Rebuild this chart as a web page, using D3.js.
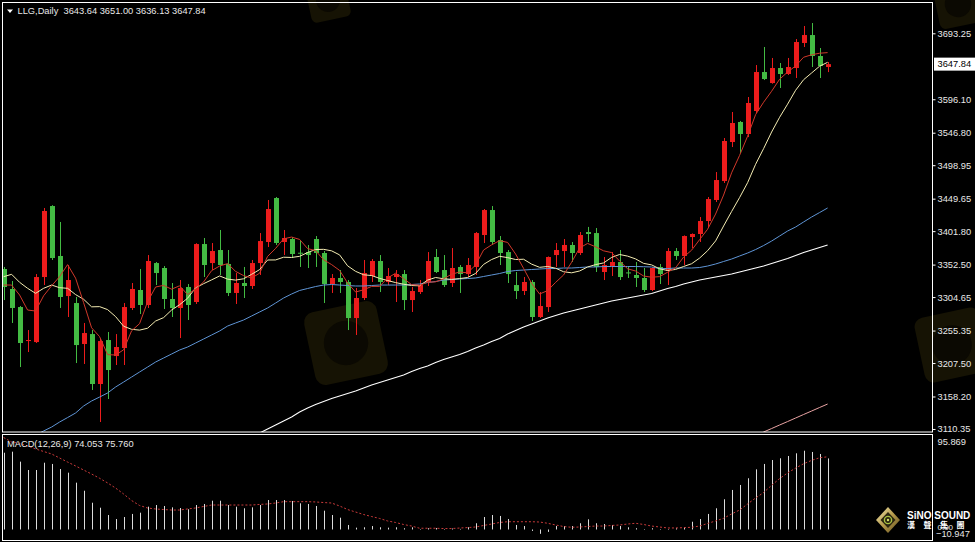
<!DOCTYPE html>
<html><head><meta charset="utf-8">
<script src="https://cdn.jsdelivr.net/npm/d3@7"></script>
<style>
html,body{margin:0;padding:0;background:#000;}
svg{display:block;}
text{font-family:"Liberation Sans",Arial,sans-serif;}
</style></head><body>
<svg id="c" width="975" height="542"></svg>
<script>
// ---------------- DATA ----------------
const symbolTitle = "LLG,Daily";
const lastOHLC = [3643.64, 3651.00, 3636.13, 3647.84];
const macdName = "MACD(12,26,9)";
const macdLast = [74.053, 75.760];

const open = [3346.0,3316.6,3290.0,3239.9,3238.4,3334.2,3438.8,3365.2,3306.2,3295.9,
3235.5,3250.2,3176.6,3241.4,3217.8,3229.6,3288.6,3315.1,3293.0,3354.8,
3347.5,3301.8,3288.6,3319.5,3297.4,3382.8,3354.8,3374.0,3353.4,3310.7,
3325.4,3321.0,3354.8,3385.8,3450.6,3385.8,3390.2,3370.0,3371.0,3390.2,
3369.6,3323.9,3332.8,3326.9,3273.8,3303.3,3335.7,3357.8,3326.9,3334.2,
3338.6,3300.3,3312.1,3326.9,3363.7,3344.5,3325.4,3349.0,3338.6,3349.0,
3396.1,3432.9,3388.7,3371.0,3322.4,3313.6,3326.9,3275.3,3290.0,3366.6,
3372.5,3381.4,3369.6,3400.5,3399.0,3341.6,3350.4,3356.3,3341.0,3337.2,
3332.8,3315.1,3349.0,3343.1,3372.5,3365.2,3393.1,3397.6,3416.7,3447.7,
3475.6,3533.1,3562.6,3544.9,3578.8,3636.2,3620.0,3642.1,3633.3,3642.1,
3679.0,3690.7,3659.8,3643.64];
const high = [3349.0,3328.3,3291.5,3256.1,3338.6,3435.9,3440.0,3415.3,3351.9,3304.8,
3266.5,3256.1,3242.9,3253.2,3250.2,3295.9,3325.4,3346.0,3366.6,3356.3,
3350.4,3325.4,3329.8,3323.9,3384.0,3391.7,3384.3,3403.5,3374.0,3340.1,
3349.0,3359.3,3399.0,3447.7,3452.1,3403.5,3393.1,3388.7,3381.4,3394.6,
3372.5,3338.6,3344.5,3329.8,3318.0,3359.3,3360.7,3366.6,3347.5,3344.5,
3344.5,3319.5,3329.8,3371.0,3375.5,3366.6,3376.9,3351.9,3362.2,3400.5,
3434.4,3438.8,3394.6,3374.0,3341.6,3334.2,3329.8,3312.1,3364.5,3384.3,
3390.2,3385.8,3400.5,3408.0,3406.4,3363.7,3371.0,3374.0,3349.0,3356.3,
3347.5,3348.5,3353.4,3376.9,3376.9,3395.5,3398.5,3422.6,3452.1,3488.9,
3539.0,3577.3,3564.1,3599.4,3646.5,3673.1,3656.9,3649.5,3656.9,3684.8,
3704.0,3708.4,3671.6,3651.00];
const low = [3300.3,3266.5,3201.6,3223.7,3237.0,3322.4,3359.3,3288.6,3275.3,3207.5,
3206.1,3167.8,3120.6,3154.5,3204.6,3204.6,3285.6,3279.7,3288.6,3322.4,
3287.1,3275.3,3244.3,3270.9,3294.5,3334.2,3344.5,3337.2,3306.2,3294.5,
3303.3,3316.6,3337.2,3378.4,3381.4,3366.6,3362.2,3349.0,3347.5,3349.0,
3295.9,3310.7,3310.7,3256.1,3248.8,3300.3,3326.9,3312.1,3322.4,3297.4,
3285.6,3282.7,3309.2,3321.0,3340.1,3319.5,3319.5,3310.7,3334.2,3337.2,
3384.3,3381.4,3351.9,3325.4,3301.8,3307.7,3269.4,3273.8,3282.7,3349.0,
3349.0,3356.3,3366.6,3385.8,3341.6,3329.8,3335.7,3329.8,3332.8,3319.5,
3312.1,3313.6,3323.9,3322.4,3359.3,3351.9,3376.9,3385.8,3406.4,3444.7,
3472.7,3525.7,3516.9,3540.4,3575.8,3624.4,3619.0,3612.7,3631.8,3627.4,
3673.1,3643.6,3627.4,3636.13];
const close = [3319.5,3288.6,3237.0,3241.4,3334.2,3431.5,3362.2,3304.8,3329.8,3234.0,
3251.7,3176.6,3239.9,3197.2,3231.1,3290.0,3316.6,3293.0,3357.8,3340.1,
3301.8,3288.6,3318.0,3293.0,3382.8,3351.9,3372.5,3351.9,3310.7,3325.4,
3321.0,3354.8,3387.2,3434.4,3384.3,3391.7,3368.1,3369.6,3366.6,3369.6,
3323.9,3332.8,3326.9,3273.8,3303.3,3340.1,3357.8,3326.9,3335.7,3338.6,
3300.3,3313.6,3322.4,3357.8,3341.6,3322.4,3347.5,3338.6,3351.9,3399.0,
3432.9,3385.8,3369.6,3338.6,3313.6,3326.9,3275.3,3291.5,3363.7,3374.0,
3381.4,3369.6,3396.1,3397.6,3349.0,3351.9,3356.3,3334.2,3340.1,3332.8,
3315.1,3347.5,3338.6,3372.5,3365.2,3394.6,3397.6,3416.7,3449.1,3477.1,
3534.6,3561.1,3544.9,3590.6,3636.2,3625.9,3642.1,3633.3,3643.6,3680.4,
3690.7,3659.8,3645.1,3647.84];

const ma5 = [3322.4,3322.4,3307.7,3285.6,3284.1,3306.5,3321.3,3334.8,3352.5,3332.5,
3296.5,3259.4,3246.4,3219.9,3219.3,3227.0,3255.0,3265.6,3297.7,3319.5,
3321.9,3316.3,3321.3,3308.3,3316.8,3326.9,3343.6,3350.4,3354.0,3342.5,
3336.3,3332.8,3339.8,3364.6,3376.3,3390.5,3393.1,3389.6,3376.1,3373.1,
3359.6,3352.5,3344.0,3325.4,3312.1,3315.4,3320.4,3320.4,3332.8,3339.8,
3331.9,3323.0,3322.1,3326.5,3327.1,3331.6,3338.3,3341.6,3340.4,3351.9,
3374.0,3381.6,3387.8,3385.2,3368.1,3346.9,3324.8,3309.2,3314.2,3326.3,
3337.2,3356.0,3377.0,3383.7,3378.7,3372.8,3370.2,3357.8,3346.3,3343.1,
3335.7,3333.9,3334.8,3341.3,3347.8,3363.7,3373.7,3389.3,3404.6,3427.0,
3455.0,3487.7,3513.4,3541.7,3573.5,3591.7,3607.9,3625.6,3636.2,3645.1,
3658.0,3661.6,3663.9,3664.8];
const ma10 = [3334.7,3338.2,3326.4,3317.6,3310.2,3317.6,3322.4,3318.5,3317.6,3308.3,
3301.5,3290.3,3290.6,3286.2,3275.9,3261.7,3257.2,3256.0,3258.8,3269.4,
3274.4,3285.6,3293.4,3303.0,3318.2,3324.4,3330.0,3335.8,3331.1,3329.7,
3331.6,3338.2,3345.1,3359.3,3359.4,3363.4,3363.0,3364.7,3370.3,3374.7,
3375.0,3372.8,3366.8,3350.7,3342.6,3337.5,3336.4,3332.2,3329.1,3326.0,
3323.6,3321.7,3321.3,3329.7,3333.5,3331.7,3330.7,3331.9,3333.5,3339.5,
3352.8,3360.0,3364.7,3362.8,3360.0,3360.4,3353.2,3348.5,3349.7,3347.2,
3342.0,3340.4,3343.1,3349.0,3352.5,3355.0,3363.1,3367.4,3365.0,3360.9,
3354.3,3352.1,3346.3,3343.8,3345.4,3349.7,3353.8,3362.1,3373.0,3387.4,
3409.4,3430.7,3451.3,3473.2,3500.3,3523.4,3547.8,3569.5,3588.9,3609.3,
3624.9,3634.8,3644.8,3650.5];
const ma60 = [null,null,null,null,3101.5,3107.4,3113.2,3120.6,3127.2,3133.9,
3144.2,3151.6,3157.4,3163.4,3172.2,3179.5,3186.9,3194.3,3201.6,3209.0,
3214.9,3220.8,3226.7,3231.1,3237.0,3242.9,3248.8,3254.7,3262.0,3266.5,
3270.9,3276.8,3282.7,3288.6,3295.9,3303.3,3309.2,3314.4,3317.3,3320.2,
3322.4,3323.2,3322.4,3321.7,3321.0,3321.0,3321.7,3322.4,3322.4,3322.4,
3322.4,3323.2,3323.9,3326.1,3327.6,3329.8,3330.5,3331.3,3332.0,3332.8,
3335.0,3337.2,3339.4,3342.3,3343.8,3344.5,3345.3,3346.0,3346.7,3346.7,
3347.5,3347.5,3348.2,3349.0,3349.0,3349.7,3349.7,3349.7,3349.7,3349.7,
3349.4,3349.0,3346.7,3346.7,3347.5,3347.5,3347.5,3348.2,3350.4,3353.4,
3357.1,3360.7,3365.2,3369.6,3374.7,3380.6,3387.2,3394.6,3402.0,3407.9,
3415.3,3422.6,3429.2,3435.9];
const ma120 = [null,null,null,null,null,null,null,null,null,null,
null,null,null,null,null,null,null,null,null,null,
null,null,null,null,null,null,null,null,null,null,
null,null,3104.4,3110.3,3116.2,3122.1,3128.0,3135.3,3141.2,3146.4,
3150.8,3155.2,3158.9,3162.6,3166.3,3170.7,3175.1,3178.8,3182.5,3186.2,
3189.9,3195.0,3199.4,3203.1,3208.3,3212.7,3216.4,3220.1,3224.5,3229.6,
3234.0,3239.2,3243.6,3250.2,3255.4,3260.6,3265.0,3269.4,3273.8,3277.5,
3281.2,3284.1,3287.1,3290.0,3293.0,3295.9,3298.9,3301.1,3303.3,3305.5,
3307.7,3309.9,3313.6,3317.3,3320.2,3323.9,3326.9,3329.8,3332.0,3334.2,
3336.4,3338.6,3341.6,3344.5,3347.5,3350.4,3354.1,3357.8,3361.5,3365.9,
3370.3,3374.0,3377.7,3381.4];
const ma250 = [null,null,null,null,null,null,null,null,null,null,
null,null,null,null,null,null,null,null,null,null,
null,null,null,null,null,null,null,null,null,null,
null,null,null,null,null,null,null,null,null,null,
null,null,null,null,null,null,null,null,null,null,
null,null,null,null,null,null,null,null,null,null,
null,null,null,null,null,null,null,null,null,null,
null,null,null,null,null,null,null,null,null,null,
null,null,null,null,null,null,null,null,null,null,
null,null,null,null,3100.7,3105.9,3111.0,3116.2,3121.3,3126.5,
3131.7,3136.8,3142.0,3147.1];

const macdMain = [80.0,81.1,70.7,62.0,62.0,69.6,68.3,63.0,59.2,48.8,
40.4,27.9,22.7,15.1,10.9,13.0,16.2,17.5,23.8,25.5,
24.5,23.1,22.4,21.1,25.5,26.6,30.0,30.0,25.5,23.8,
22.1,23.1,25.5,30.7,30.7,30.7,29.7,27.3,26.6,24.5,
19.6,15.1,12.3,4.7,1.9,2.3,3.6,2.3,1.9,2.3,
1.3,2.3,0.5,1.3,1.5,0.5,1.0,0.6,2.3,6.5,
13.0,15.1,14.1,10.9,4.7,3.6,-1.5,-4.5,-2.5,3.6,
3.6,3.6,6.5,10.6,6.5,5.7,4.7,3.6,2.3,1.3,
-0.5,1.3,0.5,0.5,1.3,2.3,8.1,10.9,16.2,22.1,
31.5,41.2,46.4,53.4,62.7,68.3,72.4,74.2,76.6,79.4,
82.1,80.8,78.7,74.053];
const macdSignal = [95.869,91.2,89.8,87.0,83.9,81.3,78.7,74.5,70.3,66.2,
62.0,57.8,53.4,48.5,43.2,37.0,30.2,25.0,22.4,21.4,
20.8,20.3,20.3,21.4,22.4,24.0,25.5,25.5,25.5,25.5,
25.5,25.5,26.1,26.6,27.6,29.0,29.0,29.0,29.0,28.7,
28.1,27.6,24.5,20.8,18.2,15.6,13.5,11.5,8.9,7.3,
5.2,3.6,1.3,1.3,1.3,1.0,1.0,1.5,2.0,2.6,
4.2,5.7,7.3,8.1,8.1,8.1,8.1,7.8,6.5,4.7,
3.1,2.3,2.6,3.1,3.6,3.6,4.2,4.7,5.7,6.5,
5.2,3.6,2.6,1.6,1.6,1.9,2.3,3.6,6.3,8.9,
11.7,16.2,20.3,26.6,32.8,38.5,46.0,53.0,59.0,64.0,
68.5,72.0,74.8,75.760];

const priceTicks = [3693.25,3596.10,3546.80,3498.95,3449.65,3401.80,3352.50,3304.65,3255.35,3207.50,3158.20,3110.35];
const macdRange = [-10.947, 95.869];

// ---------------- LAYOUT ----------------
const svg = d3.select("#c");
const L = 3, R = 932.5, mainTop = 3, mainBottom = 432, macdTop = 435, macdBottom = 540;
const upColor = "#ec1c1c", downColor = "#43bb43";

const x = d3.scaleLinear().domain([0, close.length - 1]).range([3.6, 827.6]);
const y = d3.scaleLinear().domain([3105.9, 3737.9]).range([mainBottom, mainTop]);
const ym = d3.scaleLinear().domain(macdRange).range([540, 437.5]);

svg.append("rect").attr("width", 975).attr("height", 542).attr("fill", "#000");

const defs = svg.append("defs");
defs.append("clipPath").attr("id", "cm").append("rect")
  .attr("x", L).attr("y", mainTop).attr("width", R - L).attr("height", mainBottom - mainTop);
defs.append("clipPath").attr("id", "cd").append("rect")
  .attr("x", L).attr("y", macdTop).attr("width", R - L).attr("height", macdBottom - macdTop);
const gold = defs.append("linearGradient").attr("id", "gold").attr("x1", 0).attr("y1", 0).attr("x2", 1).attr("y2", 1);
gold.append("stop").attr("offset", "0").attr("stop-color", "#f2e6b0");
gold.append("stop").attr("offset", "0.5").attr("stop-color", "#b59a4a");
gold.append("stop").attr("offset", "1").attr("stop-color", "#5e4a1c");

// faint watermarks
const wm = svg.append("g").attr("fill", "#161304");
[[346, 343, 74, -12], [328, 0, 40, -12], [958, 4, 44, -12], [952, 345, 66, -12]].forEach(d => {
  const g = wm.append("g").attr("transform", `translate(${d[0]},${d[1]}) rotate(${d[3]})`);
  g.append("rect").attr("x", -d[2] / 2).attr("y", -d[2] / 2).attr("width", d[2]).attr("height", d[2]).attr("rx", d[2] * 0.14);
  g.append("circle").attr("r", d[2] * 0.3).attr("fill", "#0b0902");
});

// ---------------- MAIN PANEL ----------------
const main = svg.append("g").attr("clip-path", "url(#cm)");
const idx = d3.range(close.length);
const cx = i => Math.round(x(i));
const bodyTop = i => y(Math.max(open[i], close[i]));
const bodyH = i => Math.max(1, y(Math.min(open[i], close[i])) - bodyTop(i));

const candles = main.append("g").selectAll("g").data(idx).join("g")
  .attr("fill", i => close[i] >= open[i] ? upColor : downColor)
  .attr("stroke", i => close[i] >= open[i] ? upColor : downColor);
candles.append("line")
  .attr("x1", i => cx(i) + 0.5).attr("x2", i => cx(i) + 0.5)
  .attr("y1", i => y(high[i])).attr("y2", i => y(low[i]))
  .attr("stroke-width", 1);
candles.append("rect")
  .attr("stroke", "none")
  .attr("x", i => cx(i) - 2).attr("width", 5)
  .attr("y", bodyTop).attr("height", bodyH);

const line = d3.line().defined(d => d != null).x((d, i) => x(i)).y(d => y(d));
[[ma250, "#e9a3a3", 1], [ma120, "#ffffff", 1.1], [ma60, "#5f95d6", 1], [ma10, "#f4ecb2", 1], [ma5, "#d0382a", 1]]
  .forEach(([arr, col, w]) => {
    main.append("path").datum(arr).attr("d", line).attr("fill", "none")
      .attr("stroke", col).attr("stroke-width", w);
  });

// ---------------- MACD PANEL ----------------
const mp = svg.append("g").attr("clip-path", "url(#cd)");
mp.append("g").selectAll("line").data(idx).join("line")
  .attr("x1", i => cx(i) + 0.5).attr("x2", i => cx(i) + 0.5)
  .attr("y1", ym(0)).attr("y2", i => ym(macdMain[i]))
  .attr("stroke", "#dcdcdc").attr("stroke-width", 1);
mp.append("path").datum(macdSignal)
  .attr("d", d3.line().x((d, i) => x(i)).y(d => ym(d)))
  .attr("fill", "none").attr("stroke", "#c83a3a").attr("stroke-width", 1).attr("stroke-dasharray", "2,2");

// ---------------- FRAMES ----------------
svg.append("rect").attr("x", 2.5).attr("y", 2.5).attr("width", R - 2.5).attr("height", mainBottom - 2.5)
  .attr("fill", "none").attr("stroke", "#fff").attr("stroke-width", 1);
svg.append("rect").attr("x", 2.5).attr("y", 434.5).attr("width", R - 2.5).attr("height", 106)
  .attr("fill", "none").attr("stroke", "#fff").attr("stroke-width", 1);

// ---------------- AXES ----------------
const fs = "9.3px";
const ax = svg.append("g").attr("transform", `translate(${R},0)`)
  .call(d3.axisRight(y).tickValues(priceTicks).tickSize(3).tickPadding(2).tickFormat(d3.format(".2f")));
ax.select(".domain").remove();
ax.selectAll("line").attr("stroke", "#fff");
ax.selectAll("text").attr("fill", "#e8e8e8").style("font-size", fs).style("font-family", "Liberation Sans, Arial, sans-serif");

// current price box
const lastClose = close[close.length - 1];
svg.append("rect").attr("x", R + 1.5).attr("y", y(lastClose) - 6.5).attr("width", 975 - R).attr("height", 13).attr("fill", "#fff");
svg.append("text").attr("x", R + 5).attr("y", y(lastClose)).attr("dy", "0.34em")
  .attr("fill", "#000").style("font-size", fs).text(d3.format(".2f")(lastClose));

// MACD scale labels
const mLab = svg.append("g").attr("fill", "#e8e8e8").style("font-size", fs);
mLab.append("text").attr("x", R + 5).attr("y", ym(macdRange[1]) + 4.5).attr("dy", "0.34em").text(d3.format(".3f")(macdRange[1]));
mLab.append("text").attr("x", R + 5).attr("y", ym(0) - 2.5).attr("dy", "0.34em").style("font-size", "8px").text("0.00");
mLab.append("text").attr("x", R + 3.5).attr("y", ym(macdRange[0]) - 6.5).attr("dy", "0.34em").text(d3.format(".3f")(macdRange[0]));

// ---------------- TITLES ----------------
svg.append("path").attr("d", "M7,9.5 L13,9.5 L10,13 Z").attr("fill", "#fff");
svg.append("text").attr("x", 17.5).attr("y", 14.3).attr("fill", "#e8e8e8").style("font-size", fs)
  .attr("xml:space", "preserve")
  .text(symbolTitle + "  " + lastOHLC.map(d3.format(".2f")).join(" "));
svg.append("text").attr("x", 7).attr("y", 447).attr("fill", "#e8e8e8").style("font-size", fs)
  .text(macdName + " " + macdLast.map(d3.format(".3f")).join(" "));

// ---------------- LOGO ----------------
const lg = svg.append("g").attr("transform", "translate(888,520)");
lg.append("path").attr("d", "M0,-13 L12,0 L0,13 L-12,0 Z").attr("fill", "url(#gold)");
lg.append("path").attr("d", "M0,-8 L7.5,0 L0,8 L-7.5,0 Z").attr("fill", "#2a2410");
lg.append("circle").attr("r", 3.6).attr("fill", "none").attr("stroke", "#a8c040").attr("stroke-width", 1.4);
lg.append("circle").attr("r", 1.2).attr("fill", "#d8e070");
svg.append("text").attr("x", 907).attr("y", 518.5).attr("fill", "#fff")
  .style("font-size", "10px").style("font-weight", "bold").style("font-family", "Liberation Sans, Arial, sans-serif")
  .text("SiNO SOUND");
const cjk = ["漢", "聲", "集", "團"];
svg.append("g").selectAll("text").data(cjk).join("text")
  .attr("x", (d, i) => 907 + i * 16.5).attr("y", 527.5).attr("fill", "#fff")
  .style("font-size", "8px").style("font-weight", "bold").style("font-family", "Noto Sans CJK TC, sans-serif")
  .text(d => d);
</script>
</body></html>
